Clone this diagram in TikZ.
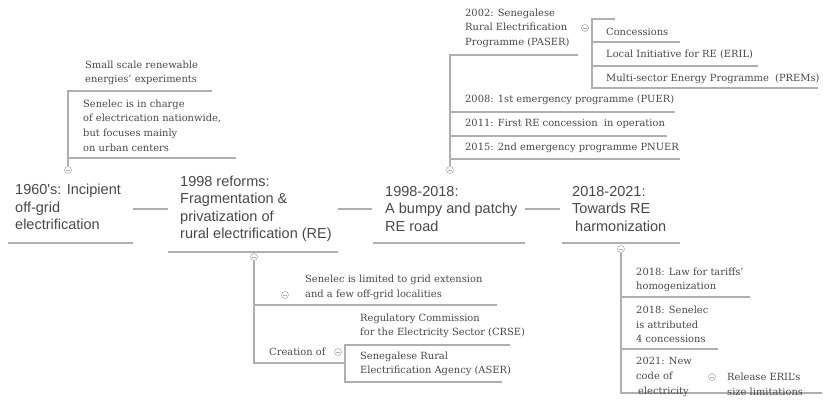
\documentclass[tikz,border=0pt]{standalone}
\usepackage{fontspec}
\setmainfont{DejaVu Serif}
\newfontfamily\topicfont{Liberation Sans}
\definecolor{inkgray}{RGB}{72,72,72}
\definecolor{linegray}{RGB}{175,175,175}
\tikzset{
  topic/.style={anchor=west, inner sep=0pt, align=left, text=inkgray,
    font=\topicfont\fontsize{14.5}{17.5}\selectfont},
  leaf/.style={anchor=west, inner sep=0pt, align=left, text=inkgray,
    font=\fontsize{9.9}{14.6}\selectfont},
  branch/.style={draw=linegray, line width=1.1pt},
  fold/.style={circle, draw=linegray, fill=white, line width=0.6pt,
    minimum size=7pt, inner sep=0pt,
    path picture={\draw[linegray, line width=0.6pt]
      ([xshift=-1.8pt]path picture bounding box.center) --
      ([xshift=1.8pt]path picture bounding box.center);}}
}
\begin{document}
\begin{tikzpicture}[x=1pt,y=1pt,yscale=-1,xscale=1]
\useasboundingbox (0,0) rectangle (823,403);

% Main topics
\node[topic] (t1) at (15,207) {1960's: Incipient\\off-grid\\electrification};
\node[topic] (t2) at (180,209) {1998 reforms:\\Fragmentation \&\\privatization of\\rural electrification (RE)};
\node[topic] (t3) at (385,209) {1998-2018:\\A bumpy and patchy\\RE road};
\node[topic] (t4) at (572,209) {2018-2021:\\Towards RE\\\hspace{3pt}harmonization};

%Underlines of main topics
\coordinate (t1l) at (8,243);   \coordinate (t1r) at (133,243);
\coordinate (t2l) at (168,252); \coordinate (t2r) at (338,252);
\coordinate (t3l) at (373,243); \coordinate (t3r) at (525,243);
\coordinate (t4l) at (562,243); \coordinate (t4r) at (680,243);
\draw[branch] (t1l) -- (t1r);
\draw[branch] (t2l) -- (t2r);
\draw[branch] (t3l) -- (t3r);
\draw[branch] (t4l) -- (t4r);

%Straight Lines between topics
\coordinate (j1a) at (133,209); \coordinate (j1b) at (168,209);
\coordinate (j2a) at (338,209); \coordinate (j2b) at (372,209);
\coordinate (j3a) at (525,209); \coordinate (j3b) at (560,209);
\draw[branch] (j1a) -- (j1b);
\draw[branch] (j2a) -- (j2b);
\draw[branch] (j3a) -- (j3b);

% 1960's branch
\node[fold] (f1) at (68,170) {};
\coordinate (b1top) at (68,91);  \coordinate (l1a) at (212,91);
\coordinate (b1mid) at (68,158); \coordinate (l1b) at (236,158);
\draw[branch] (f1) -- (b1top) -- (l1a);
\draw[branch] (b1mid) -- (l1b);
\node[leaf] (s1) at (85,73) {Small scale renewable\\energies' experiments};
\node[leaf] (s2) at (83,125.5) {Senelec is in charge\\of electrication nationwide,\\but focuses mainly\\on urban centers};

% 1998 reforms branch
\node[fold] (f2) at (254,257) {};
\coordinate (b2mid) at (254,305); \coordinate (l2a) at (497,305);
\coordinate (b2bot) at (254,363); \coordinate (k2) at (345,363);
\draw[branch] (f2) -- (b2bot) -- (k2);
\draw[branch] (b2mid) -- (l2a);
\node[leaf] (s3) at (305,287.5) {Senelec is limited to grid extension\\and a few off-grid localities};
\node[fold] (f2b) at (285,295) {};
\node[leaf] (s4) at (269,352) {Creation of};
\coordinate (k2top) at (345,345); \coordinate (k2a) at (510,345);
\coordinate (k2bot) at (345,382); \coordinate (k2b) at (502,382);
\draw[branch] (k2a) -- (k2top) -- (k2bot) -- (k2b);
\node[fold] (f2c) at (338,352) {};
\node[leaf] (s5) at (360,326) {Regulatory Commission\\for the Electricity Sector (CRSE)};
\node[leaf] (s6) at (360,364) {Senegalese Rural\\Electrification Agency (ASER)};

% 1998-2018 branch
\node[fold] (f3) at (450,170) {};
\coordinate (b3top) at (450,55); \coordinate (l3a) at (578,55);
\coordinate (b3p) at (450,112);  \coordinate (l3b) at (675,112);
\coordinate (b3q) at (450,136);  \coordinate (l3c) at (667,136);
\coordinate (b3r) at (450,159);  \coordinate (l3d) at (680,159);
\draw[branch] (f3) -- (b3top) -- (l3a);
\draw[branch] (b3p) -- (l3b);
\draw[branch] (b3q) -- (l3c);
\draw[branch] (b3r) -- (l3d);
\node[leaf] (s7) at (465,28) {2002: Senegalese\\Rural Electrification\\Programme (PASER)};
\node[leaf] (s8) at (465,100) {2008: 1st emergency programme (PUER)};
\node[leaf] (s9) at (465,124) {2011: First RE concession\ \ in operation};
\node[leaf] (s10) at (465,148) {2015: 2nd emergency programme PNUER};
\node[fold] (f3b) at (585,28) {};
\coordinate (k3top) at (592,19); \coordinate (k3a) at (615,19);
\coordinate (k3p) at (592,42);   \coordinate (k3b) at (680,42);
\coordinate (k3q) at (592,66);   \coordinate (k3c) at (758,66);
\coordinate (k3bot) at (592,88); \coordinate (k3d) at (818,88);
\draw[branch] (k3a) -- (k3top) -- (k3bot) -- (k3d);
\draw[branch] (k3p) -- (k3b);
\draw[branch] (k3q) -- (k3c);
\node[leaf] (s11) at (606,32) {Concessions};
\node[leaf] (s12) at (606,55) {Local Initiative for RE (ERIL)};
\node[leaf] (s13) at (606,79) {Multi-sector Energy Programme\ \ (PREMs)};

% 2018-2021 branch
\node[fold] (f4) at (621,249) {};
\coordinate (b4p) at (621,297);   \coordinate (l4a) at (750,297);
\coordinate (b4q) at (621,349);   \coordinate (l4b) at (718,349);
\coordinate (b4bot) at (621,393); \coordinate (l4c) at (822,393);
\draw[branch] (f4) -- (b4bot) -- (l4c);
\draw[branch] (b4p) -- (l4a);
\draw[branch] (b4q) -- (l4b);
\node[leaf] (s14) at (636,280) {2018: Law for tariffs'\\homogenization};
\node[leaf] (s15) at (636,324.5) {2018: Senelec\\is attributed\\4 concessions};
\node[leaf] (s16) at (636,377) {2021: New\\code of\\\hspace{2pt}electricity};
\node[fold] (f4b) at (712,377) {};
\node[leaf] (s17) at (727,384.5) {Release ERIL's\\size limitations};

\end{tikzpicture}
\end{document}
